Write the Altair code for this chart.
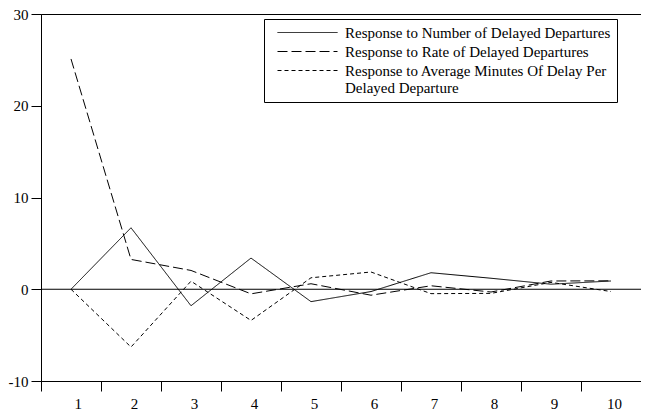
import altair as alt
import pandas as pd

periods = [1, 2, 3, 4, 5, 6, 7, 8, 9, 10]
number_resp = [0.0, 6.7, -1.8, 3.4, -1.35, -0.25, 1.8, 1.2, 0.55, 0.9]
rate_resp = [25.1, 3.25, 2.05, -0.5, 0.6, -0.65, 0.38, -0.3, 0.9, 0.92]
avg_resp = [0.0, -6.3, 0.88, -3.4, 1.25, 1.88, -0.48, -0.45, 0.75, -0.25]

series_names = [
    "Response to Number of Delayed Departures",
    "Response to Rate of Delayed Departures",
    "Response to Average Minutes Of Delay Per Delayed Departure",
]

rows = []
for name, vals in zip(series_names, [number_resp, rate_resp, avg_resp]):
    for p, v in zip(periods, vals):
        rows.append({"period": p, "value": v, "series": name})
df = pd.DataFrame(rows)

W = 600
H = 367
step = W / 10
FONT = "Liberation Serif"

x_scale = alt.Scale(domain=[0.5, 10.5], nice=False, zero=False)
y_scale = alt.Scale(domain=[-10, 30], nice=False, zero=False)

lines = alt.Chart(df).mark_line(color="black", strokeWidth=1).encode(
    x=alt.X(
        "period:Q",
        scale=x_scale,
        title=None,
        axis=alt.Axis(
            values=[0.5 + i for i in range(11)],
            labelExpr="datum.value > 10 ? '' : format(datum.value + 0.5, 'd')",
            labelOffset=step / 2 + 3,
            tickSize=10,
            labelPadding=5,
            grid=False,
        ),
    ),
    y=alt.Y(
        "value:Q",
        scale=y_scale,
        title=None,
        axis=alt.Axis(
            values=[-10, 0, 10, 20, 30],
            labelExpr="datum.value < 0 ? '-' + abs(datum.value) : '' + datum.value",
            tickSize=10,
            labelPadding=3,
            grid=False,
        ),
    ),
    strokeDash=alt.StrokeDash(
        "series:N",
        scale=alt.Scale(domain=series_names, range=[[1, 0], [10, 4], [4, 3]]),
        sort=series_names,
        legend=alt.Legend(
            title=None,
            orient="none",
            legendX=223,
            legendY=5,
            symbolType="M0,0H60",
            symbolSize=4,
            symbolStrokeWidth=1,
            symbolStrokeColor="black",
            labelExpr="datum.label == 'Response to Average Minutes Of Delay Per Delayed Departure' ? ['Response to Average Minutes Of Delay Per', 'Delayed Departure'] : datum.label",
            labelLimit=400,
            labelFont=FONT,
            labelFontSize=15,
            labelColor="black",
            labelOffset=60,
            strokeColor="black",
            fillColor="white",
            padding=6,
            rowPadding=3,
        ),
    ),
)

zero = alt.Chart(pd.DataFrame({"z": [0]})).mark_rule(color="black", strokeWidth=1).encode(
    y=alt.Y("z:Q", scale=y_scale)
)

chart = (
    alt.layer(zero, lines)
    .properties(
        width=W,
        height=H,
        autosize=alt.AutoSizeParams(type="none"),
        padding={"left": 33, "top": 6, "right": 0, "bottom": 31},
    )
    .configure_view(stroke="black", strokeWidth=1)
    .configure_axis(
        domainColor="black",
        tickColor="black",
        labelColor="black",
        labelFont=FONT,
        labelFontSize=15,
        domainWidth=1,
        tickWidth=1,
    )
    .configure_legend(labelFont=FONT, labelFontSize=15, labelColor="black")
)

chart.save("out.html", embed_options={"renderer": "svg", "actions": False})
